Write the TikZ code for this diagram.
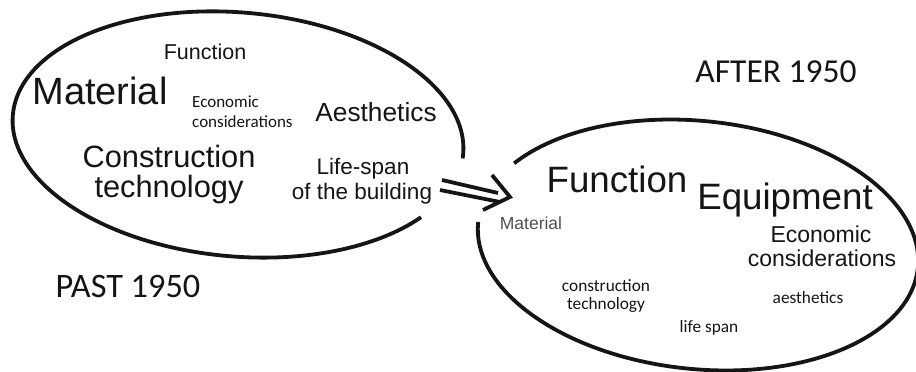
\documentclass[tikz,border=0pt]{standalone}
\usepackage{fontspec}
\setmainfont{Liberation Sans}
\newfontfamily\calfont{Carlito}
\definecolor{ink}{HTML}{151515}
\definecolor{greyink}{HTML}{505050}
\tikzset{
  ring/.style={line width=3.8pt, ink},
  arrowline/.style={line width=3.8pt, ink},
  lbl/.style={anchor=base, inner sep=0pt, text=ink},
  lblL/.style={anchor=base west, inner sep=0pt, text=ink},
}
\begin{document}
\begin{tikzpicture}[x=1pt,y=1pt]
\useasboundingbox (0,0) rectangle (916,372);
\clip (0,0) rectangle (916,372);
\fill[white] (0,0) rectangle (916,372);

% left ellipse (past)
\begin{scope}[shift={(238,237.5)}, rotate=-5]
  \draw[ring] (-2:226pt and 122pt) arc[start angle=-2, end angle=327, x radius=226pt, y radius=122pt];
\end{scope}
% right ellipse (after)
\begin{scope}[shift={(698,127)}, rotate=-6]
  \draw[ring] (180:221pt and 124pt) arc[start angle=180, end angle=510, x radius=221pt, y radius=124pt];
\end{scope}

% double arrow
\coordinate (uA) at (442,192);
\coordinate (uB) at (498,179);
\coordinate (lA) at (440,182);
\coordinate (lB) at (500,170);
\coordinate (hU) at (492,197);
\coordinate (hT) at (510,175);
\coordinate (hL) at (483,162);
\draw[arrowline] (uA) -- (uB);
\draw[arrowline] (lA) -- (lB);
\draw[arrowline, line join=miter] (hU) -- (hT) -- (hL);

% left labels
\node[lbl, font=\fontsize{21.5}{24}\selectfont] (lfunc) at (205,312) {Function};
\node[lbl, font=\fontsize{38}{42}\selectfont] (lmat) at (100,267) {Material};
\node[lblL, font=\calfont\fontsize{17}{19}\selectfont] (lecon1) at (192,264) {Economic};
\node[lblL, font=\calfont\fontsize{17}{19}\selectfont] (lecon2) at (192,244) {considerations};
\node[lbl, font=\fontsize{26.3}{29}\selectfont] (laes) at (376,250) {Aesthetics};
\node[lbl, font=\fontsize{30.8}{34}\selectfont] (lcon1) at (169,204) {Construction};
\node[lbl, font=\fontsize{30.8}{34}\selectfont] (lcon2) at (169,174) {technology};
\node[lbl, font=\fontsize{22.5}{25}\selectfont] (llife1) at (363,197) {Life-span};
\node[lbl, font=\fontsize{22.5}{25}\selectfont] (llife2) at (362,172) {of the building};
\node[lbl, font=\calfont\fontsize{34.3}{37}\selectfont] (past) at (128,74) {PAST 1950};

% right labels
\node[lbl, font=\calfont\fontsize{33.5}{36}\selectfont] (after) at (776,289) {AFTER 1950};
\node[lbl, font=\fontsize{36.7}{40}\selectfont] (rfunc) at (617,179) {Function};
\node[lbl, font=\fontsize{36.7}{40}\selectfont] (requip) at (785,162) {Equipment};
\node[lbl, font=\fontsize{17.5}{20}\selectfont, text=greyink] (rmat) at (531,142) {Material};
\node[lbl, font=\fontsize{23}{26}\selectfont] (recon1) at (821,129) {Economic};
\node[lbl, font=\fontsize{23}{26}\selectfont] (recon2) at (822,105) {considerations};
\node[lbl, font=\calfont\fontsize{17.3}{19}\selectfont] (rcon1) at (606,80) {construction};
\node[lbl, font=\calfont\fontsize{17.3}{19}\selectfont] (rcon2) at (606,62) {technology};
\node[lbl, font=\calfont\fontsize{17.3}{19}\selectfont] (raes) at (808,68) {aesthetics};
\node[lbl, font=\calfont\fontsize{17.3}{19}\selectfont] (rlife) at (709,39) {life span};
\end{tikzpicture}
\end{document}
